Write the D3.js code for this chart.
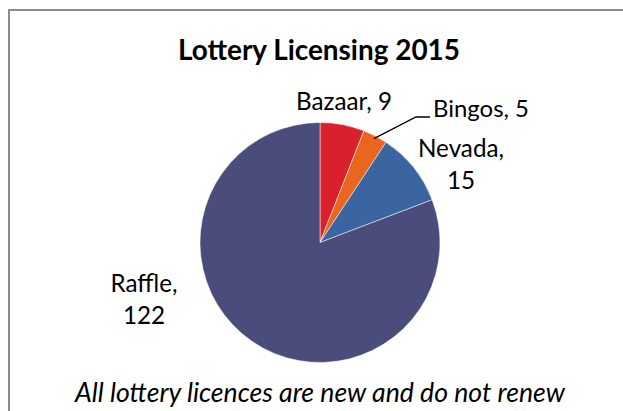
<!DOCTYPE html>
<html>
<head>
<meta charset="utf-8">
<script src="https://cdn.jsdelivr.net/npm/d3@7"></script>
<style>
  body { margin: 0; background: #fff; }
</style>
</head>
<body>
<div id="chart"></div>
<script>
var categories = ["Bazaar", "Bingos", "Nevada", "Raffle"];
var counts = [9, 5, 15, 122];
var sliceColors = ["#d9202b", "#e8661f", "#3a65a0", "#4a4d7b"];

var width = 623,
    height = 411;

var svg = d3.select("#chart")
    .append("svg")
    .attr("width", width)
    .attr("height", height);

// chart frame (only top/left edges fall inside the window)
svg.append("rect")
    .attr("x", 9)
    .attr("y", 10)
    .attr("width", 640)
    .attr("height", 440)
    .attr("fill", "none")
    .attr("stroke", "#8c8c8c")
    .attr("stroke-width", 2);

// scale a text's font so its width hits the measured target
function fit(sel, target) {
    var size = +sel.attr("font-size");
    var len = sel.node().getComputedTextLength();
    sel.attr("font-size", (size * target / len).toFixed(2));
}

var title = svg.append("text")
    .attr("x", 319)
    .attr("y", 60)
    .attr("text-anchor", "middle")
    .attr("font-family", "Lato")
    .attr("font-weight", 700)
    .attr("font-size", 20)
    .attr("fill", "#000")
    .text("Lottery Licensing 2015");
fit(title, 282);

var data = categories.map(function(c, i) {
    return { name: c, value: counts[i], color: sliceColors[i] };
});

var pie = d3.pie()
    .sort(null)
    .value(function(d) { return d.value; });

var radius = 120;
var arc = d3.arc().innerRadius(0).outerRadius(radius);

var g = svg.append("g")
    .attr("transform", "translate(320,242.5)");

var arcs = pie(data);

g.selectAll(".slice")
    .data(arcs)
    .enter().append("path")
    .attr("class", "slice")
    .attr("d", arc)
    .attr("fill", function(d) { return d.data.color; })
    .attr("stroke", "#fff")
    .attr("stroke-width", 0.5);

// leader line for Bingos
var bingo = arcs[1];
var mid = (bingo.startAngle + bingo.endAngle) / 2;
var p0 = [Math.sin(mid) * (radius - 3), -Math.cos(mid) * (radius - 3)];
g.append("polyline")
    .attr("points", [p0, [96, -125.5], [110, -125.5]].map(function(p) { return p.join(","); }).join(" "))
    .attr("fill", "none")
    .attr("stroke", "#000")
    .attr("stroke-width", 1.3);

var labels = [
    { lines: ["Bazaar, 9"], x: 344, y: 110, anchor: "middle", w: 96 },
    { lines: ["Bingos, 5"], x: 433, y: 117, anchor: "start", w: 96 },
    { lines: ["Nevada,", "15"], x: 461, y: 157, anchor: "middle", w: 86 },
    { lines: ["Raffle,", "122"], x: 144, y: 292, anchor: "middle", w: 67 }
];

labels.forEach(function(l) {
    var t = svg.append("text")
        .attr("x", l.x)
        .attr("y", l.y)
        .attr("text-anchor", l.anchor)
        .attr("font-family", "Lato")
        .attr("font-size", 20)
        .attr("fill", "#000")
        .text(l.lines[0]);
    fit(t, l.w);
    if (l.lines.length > 1) {
        svg.append("text")
            .attr("x", l.x)
            .attr("y", l.y + 32)
            .attr("text-anchor", l.anchor)
            .attr("font-family", "Lato")
            .attr("font-size", t.attr("font-size"))
            .attr("fill", "#000")
            .text(l.lines[1]);
    }
});

var note = svg.append("text")
    .attr("x", 320)
    .attr("y", 402)
    .attr("text-anchor", "middle")
    .attr("font-family", "Lato")
    .attr("font-style", "italic")
    .attr("font-size", 20)
    .attr("fill", "#000")
    .text("All lottery licences are new and do not renew");
fit(note, 490);
</script>
</body>
</html>
